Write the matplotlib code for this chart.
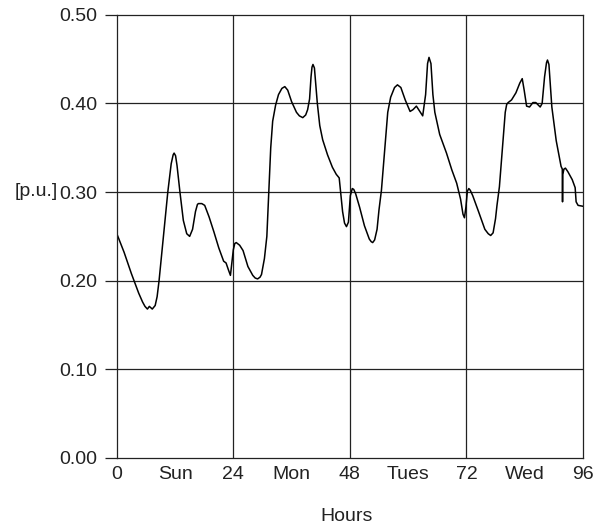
import matplotlib.pyplot as plt

plt.rcParams['font.family'] = ['Liberation Sans', 'DejaVu Sans']

hours = [0.0, 1.5, 3.0, 4.5, 5.3, 5.8, 6.3, 6.7, 7.3, 7.9, 8.3, 8.7, 9.6, 10.5, 11.2,
         11.6, 11.8, 12.1, 12.4, 13.0, 13.7, 14.4, 15.0, 15.6, 16.2, 16.6, 16.8, 17.5,
         18.1, 19.0, 20.0, 21.0, 22.0, 22.5, 23.0, 23.4, 23.7, 24.0, 24.3, 24.6, 25.3,
         26.0, 27.0, 28.0, 28.5, 29.0, 29.5, 29.8, 30.4, 30.9, 31.3, 31.7, 32.1, 32.7,
         33.3, 34.0, 34.6, 35.2, 36.0, 37.0, 37.6, 38.3, 38.9, 39.3, 39.7, 40.0, 40.2,
         40.4, 40.7, 41.0, 41.3, 41.8, 42.4, 43.4, 44.4, 45.2, 45.8, 46.1, 46.5, 46.9,
         47.3, 47.7, 48.1, 48.5, 48.8, 49.2, 50.0, 51.0, 52.0, 52.4, 52.7, 53.1, 53.6,
         54.0, 54.5, 55.2, 55.8, 56.4, 57.2, 57.8, 58.5, 59.4, 60.4, 61.0, 61.7, 62.3,
         63.0, 63.6, 64.0, 64.3, 64.7, 65.1, 65.5, 66.5, 67.9, 69.0, 70.0, 70.8, 71.3,
         71.6, 71.9, 72.2, 72.5, 72.8, 73.3, 74.5, 75.8, 76.5, 77.0, 77.5, 78.0, 78.3,
         78.8, 79.5, 80.0, 80.3, 80.6, 81.3, 82.2, 83.0, 83.5, 83.9, 84.4, 85.0, 85.7,
         86.3, 87.2, 87.6, 88.1, 88.5, 88.7, 89.0, 89.3, 89.6, 90.5, 91.5, 91.75, 91.8,
         91.85, 92.1, 92.4, 92.9, 93.8, 94.4, 94.6, 95.0, 96.0]
load = [0.253, 0.232, 0.208, 0.186, 0.176, 0.171, 0.168, 0.171, 0.168, 0.172, 0.182,
        0.200, 0.250, 0.300, 0.332, 0.342, 0.344, 0.341, 0.330, 0.300, 0.268, 0.253,
        0.250, 0.258, 0.278, 0.286, 0.287, 0.287, 0.285, 0.272, 0.255, 0.237, 0.222,
        0.220, 0.212, 0.206, 0.220, 0.235, 0.242, 0.243, 0.240, 0.234, 0.216, 0.206,
        0.203, 0.202, 0.204, 0.207, 0.225, 0.250, 0.300, 0.350, 0.380, 0.398, 0.410,
        0.417, 0.419, 0.415, 0.402, 0.390, 0.386, 0.384, 0.387, 0.393, 0.405, 0.430,
        0.441, 0.444, 0.440, 0.420, 0.400, 0.375, 0.359, 0.342, 0.328, 0.320, 0.316,
        0.300, 0.278, 0.265, 0.261, 0.266, 0.296, 0.304, 0.303, 0.298, 0.283, 0.262,
        0.247, 0.244, 0.243, 0.246, 0.258, 0.280, 0.302, 0.350, 0.390, 0.407, 0.418,
        0.421, 0.418, 0.404, 0.391, 0.393, 0.397, 0.392, 0.386, 0.410, 0.445, 0.452,
        0.445, 0.410, 0.390, 0.365, 0.344, 0.325, 0.310, 0.292, 0.275, 0.271, 0.283,
        0.301, 0.304, 0.302, 0.296, 0.278, 0.258, 0.253, 0.251, 0.254, 0.270, 0.285,
        0.306, 0.355, 0.390, 0.399, 0.401, 0.404, 0.412, 0.423, 0.428, 0.415, 0.397,
        0.396, 0.401, 0.401, 0.396, 0.400, 0.430, 0.446, 0.449, 0.444, 0.420, 0.396,
        0.358, 0.329, 0.326, 0.289, 0.320, 0.326, 0.327, 0.323, 0.314, 0.305, 0.289,
        0.285, 0.284]

xticks = [0, 12, 24, 36, 48, 60, 72, 84, 96]
xlabels = ['0', 'Sun', '24', 'Mon', '48', 'Tues', '72', 'Wed', '96']
yticks = [0.0, 0.1, 0.2, 0.3, 0.4, 0.5]

fig = plt.figure(figsize=(5.93, 5.30), dpi=100)
ax = fig.add_axes([0.197, 0.136, 0.786, 0.836])

for h in [24, 48, 72]:
    ax.axvline(h, color='#222222', lw=0.9, zorder=1)
for v in [0.1, 0.2, 0.3, 0.4]:
    ax.axhline(v, color='#222222', lw=0.9, zorder=1)

ax.plot(hours, load, color='black', lw=1.1, zorder=2, solid_joinstyle='round')

ax.set_xlim(0, 96)
ax.set_ylim(0, 0.5)
ax.set_xticks(xticks)
ax.set_xticklabels(xlabels)
ax.set_yticks(yticks)
ax.set_yticklabels(['%.2f' % v for v in yticks])
ax.tick_params(axis='x', length=0, pad=6, labelsize=14, colors='#222222')
ax.tick_params(axis='y', length=9, width=0.9, pad=5, labelsize=14, colors='#222222')
for s in ax.spines.values():
    s.set_color('#222222')
    s.set_linewidth(0.9)

fig.text(0.098, 0.638, '[p.u.]', ha='right', va='center', fontsize=14, color='#222222')
fig.text(0.585, 0.025, 'Hours', ha='center', va='center', fontsize=14, color='#222222')

fig.savefig('out.png', dpi=100)
